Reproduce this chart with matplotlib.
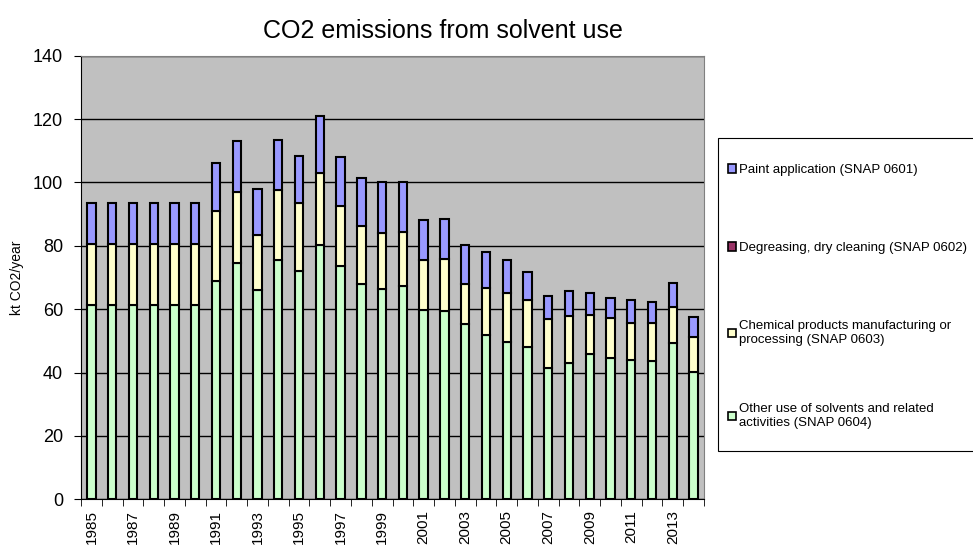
import matplotlib
matplotlib.use("Agg")
import matplotlib.pyplot as plt
from matplotlib.patches import Patch, Rectangle
import numpy as np

plt.rcParams['font.family'] = ['Liberation Sans', 'DejaVu Sans']

years = list(range(1985, 2015))
other = [61.3, 61.3, 61.3, 61.3, 61.3, 61.3, 68.8, 74.5, 66.0, 75.6, 72.1, 80.1, 73.5, 67.8, 66.5,
         67.4, 59.6, 59.3, 55.4, 51.8, 49.6, 48.0, 41.4, 42.9, 45.8, 44.7, 44.0, 43.6, 49.3, 40.2]
chem_top = [80.5, 80.5, 80.5, 80.5, 80.5, 80.5, 91.1, 96.9, 83.3, 97.5, 93.6, 102.9, 92.6, 86.2, 84.1,
            84.4, 75.4, 75.7, 67.8, 66.7, 65.2, 62.8, 56.8, 57.8, 58.2, 57.1, 55.7, 55.7, 60.8, 51.2]
total = [93.4, 93.4, 93.4, 93.4, 93.4, 93.4, 106.1, 113.0, 97.9, 113.3, 108.3, 121.0, 107.9, 101.3, 100.1,
         100.2, 88.0, 88.4, 80.3, 78.1, 75.6, 71.8, 64.2, 65.7, 65.0, 63.6, 62.9, 62.4, 68.2, 57.6]
chem = [round(c - o, 1) for c, o in zip(chem_top, other)]
degreasing = [0.0] * len(years)
paint = [round(t - c, 1) for t, c in zip(total, chem_top)]

labels = ["Paint application (SNAP 0601)",
          "Degreasing, dry cleaning (SNAP 0602)",
          "Chemical products manufacturing or\nprocessing (SNAP 0603)",
          "Other use of solvents and related\nactivities (SNAP 0604)"]
colors = ["#9999FF", "#993366", "#FFFFCC", "#CCFFCC"]

W, H = 973, 550
fig = plt.figure(figsize=(W / 100, H / 100), dpi=100)
ax = fig.add_axes([81/W, 1 - 499.3/H, (704-81)/W, (499.3-55.7)/H])
ax.set_facecolor("#C0C0C0")

x = np.arange(len(years))
w = 0.4
ekw = dict(edgecolor="black", linewidth=1.5, width=w, zorder=3)
ax.bar(x, other, color=colors[3], **ekw)
b2 = np.array(other)
ax.bar(x, chem, bottom=b2, color=colors[2], **ekw)
b3 = b2 + np.array(chem)
ax.bar(x, degreasing, bottom=b3, color=colors[1], edgecolor="black", linewidth=0, width=w, zorder=3)
b4 = b3 + np.array(degreasing)
ax.bar(x, paint, bottom=b4, color=colors[0], **ekw)

ax.set_xlim(-0.5, len(years) - 0.5)
ax.set_ylim(0, 140)
ax.set_yticks(range(0, 141, 20))
ax.yaxis.grid(True, color="black", linewidth=1.0, zorder=1)
ax.set_axisbelow(True)

ax.set_xticks(x[::2])
ax.set_xticklabels([str(y) for y in years[::2]], rotation=90, fontsize=11)
ax.set_xticks(np.arange(-0.5, len(years), 1), minor=True)
ax.tick_params(axis='x', which='major', length=0, pad=8)
ax.tick_params(axis='x', which='minor', length=5, direction='out', color='black')
ax.tick_params(axis='y', labelsize=13, length=5, direction='out', pad=8)

for s in ["top", "right"]:
    ax.spines[s].set_color("#808080")
for s in ["left", "bottom"]:
    ax.spines[s].set_color("black")

ax.set_ylabel("kt CO2/year", fontsize=10)
ax.yaxis.set_label_coords((24 - 81) / (704 - 81), 0.5)
fig.text(443 / W, 1 - 31 / H, "CO2 emissions from solvent use", ha="center", va="center", fontsize=18)

# legend frame (Excel style box extending to the right edge)
fig.patches.append(Rectangle((718 / W, 1 - 451 / H), (990 - 718) / W, (451 - 138) / H,
                             transform=fig.transFigure, facecolor="white", edgecolor="black",
                             linewidth=0.8, zorder=1))

# one legend entry per row, spread vertically like the Excel legend
entry_tops = [164, 242, 320, 403]
for c, lab, top in zip(colors, labels, entry_tops):
    h = Patch(facecolor=c, edgecolor="black", linewidth=1.2)
    leg = fig.legend([h], [lab], loc="upper left", bbox_to_anchor=(728 / W, 1 - top / H),
                     fontsize=9.5, frameon=False, handlelength=0.6, handleheight=0.6,
                     handletextpad=0.25, borderpad=0, borderaxespad=0)
    leg.set_zorder(2)

fig.savefig("out.png", dpi=100)
